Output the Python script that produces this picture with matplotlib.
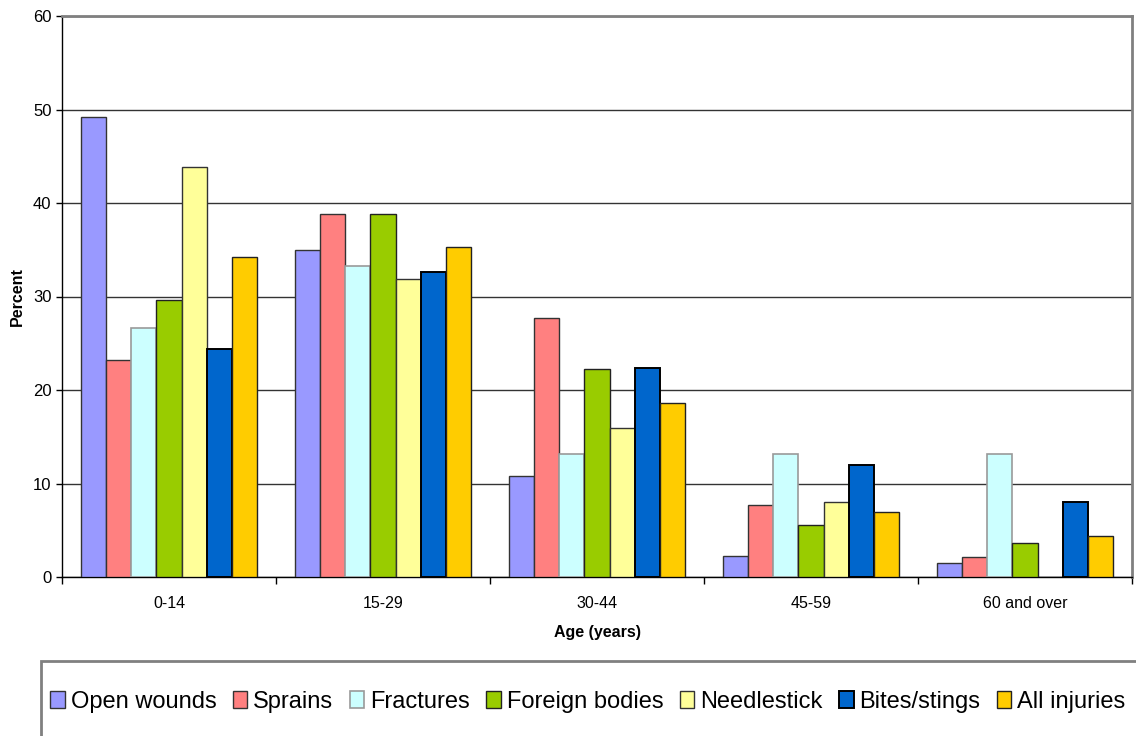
import numpy as np
import matplotlib
matplotlib.use("Agg")
import matplotlib.pyplot as plt
from matplotlib.patches import Rectangle

plt.rcParams['font.family'] = ['Liberation Sans', 'DejaVu Sans']

age_groups = ["0-14", "15-29", "30-44", "45-59", "60 and over"]
series_names = ["Open wounds", "Sprains", "Fractures", "Foreign bodies",
                "Needlestick", "Bites/stings", "All injuries"]

open_wounds = [49.2, 35.0, 10.8, 2.2, 1.5]
sprains = [23.2, 38.8, 27.7, 7.7, 2.1]
fractures = [26.6, 33.3, 13.2, 13.2, 13.2]
foreign_bodies = [29.6, 38.8, 22.2, 5.6, 3.6]
needlestick = [43.9, 31.9, 15.9, 8.0, 0.0]
bites_stings = [24.4, 32.6, 22.4, 12.0, 8.0]
all_injuries = [34.2, 35.3, 18.6, 7.0, 4.4]

series_values = [open_wounds, sprains, fractures, foreign_bodies,
                 needlestick, bites_stings, all_injuries]
fill_colors = ["#9999FF", "#FF8080", "#CCFFFF", "#99CC00",
               "#FFFF99", "#0066CC", "#FFCC00"]
edge_colors = ["#333333", "#333333", "#999999", "#222222",
               "#333333", "#000000", "#222222"]
edge_widths = [1.0, 1.0, 1.2, 1.0, 1.0, 1.4, 1.0]

W, H = 1136, 736
fig = plt.figure(figsize=(W / 100, H / 100), dpi=100)
ax = fig.add_axes([62 / W, 1 - 577 / H, (1132 - 62) / W, (577 - 16) / H])

n = len(series_names)
bar_w = 1.0 / (n + 1.5)
x = np.arange(len(age_groups))
handles = []
for i, (name, vals) in enumerate(zip(series_names, series_values)):
    h = ax.bar(x + (i - (n - 1) / 2) * bar_w, vals, width=bar_w,
               color=fill_colors[i], edgecolor=edge_colors[i],
               linewidth=edge_widths[i], label=name, zorder=3)
    handles.append(h)

ax.set_xlim(-0.5, len(age_groups) - 0.5)
ax.set_ylim(0, 60)
ax.set_yticks(np.arange(0, 61, 10))
ax.yaxis.grid(True, color="#333333", linewidth=1.0, zorder=0)
ax.set_axisbelow(True)

# category labels centred in each group, tick marks on group boundaries
ax.set_xticks(x)
ax.set_xticklabels(age_groups)
ax.set_xticks(np.arange(-0.5, len(age_groups), 1.0), minor=True)
ax.tick_params(axis="x", which="major", length=0, pad=14, labelsize=11.5)
ax.tick_params(axis="x", which="minor", length=5, width=1, color="#000000",
               direction="out")
ax.tick_params(axis="y", which="major", length=4, width=1, pad=3.5,
               labelsize=12, direction="out")

for side in ("left", "bottom"):
    ax.spines[side].set_color("#000000")
    ax.spines[side].set_linewidth(1.0)
for side in ("top", "right"):
    ax.spines[side].set_color("#808080")
    ax.spines[side].set_linewidth(2.0)

fig.text(17 / W, 1 - 297 / H, "Percent", rotation=90, ha="center",
         va="center", fontsize=11.5, fontweight="bold")
fig.text(597 / W, 1 - 632 / H, "Age (years)", ha="center", va="center",
         fontsize=11.5, fontweight="bold")

# legend frame running off the lower right of the figure
fig.patches.append(Rectangle((41 / W, -0.1), 1.2, (1 - 661 / H) + 0.1,
                             transform=fig.transFigure, fill=False,
                             edgecolor="#808080", linewidth=2.0))
fig.legend(handles=handles, labels=series_names, loc="center left",
           bbox_to_anchor=(50 / W, 1 - 702 / H), ncol=n, frameon=False,
           fontsize=17, handlelength=0.63, handleheight=0.72,
           handletextpad=0.25, columnspacing=0.68, borderpad=0,
           borderaxespad=0)

fig.savefig("out.png", dpi=100, facecolor="white")
